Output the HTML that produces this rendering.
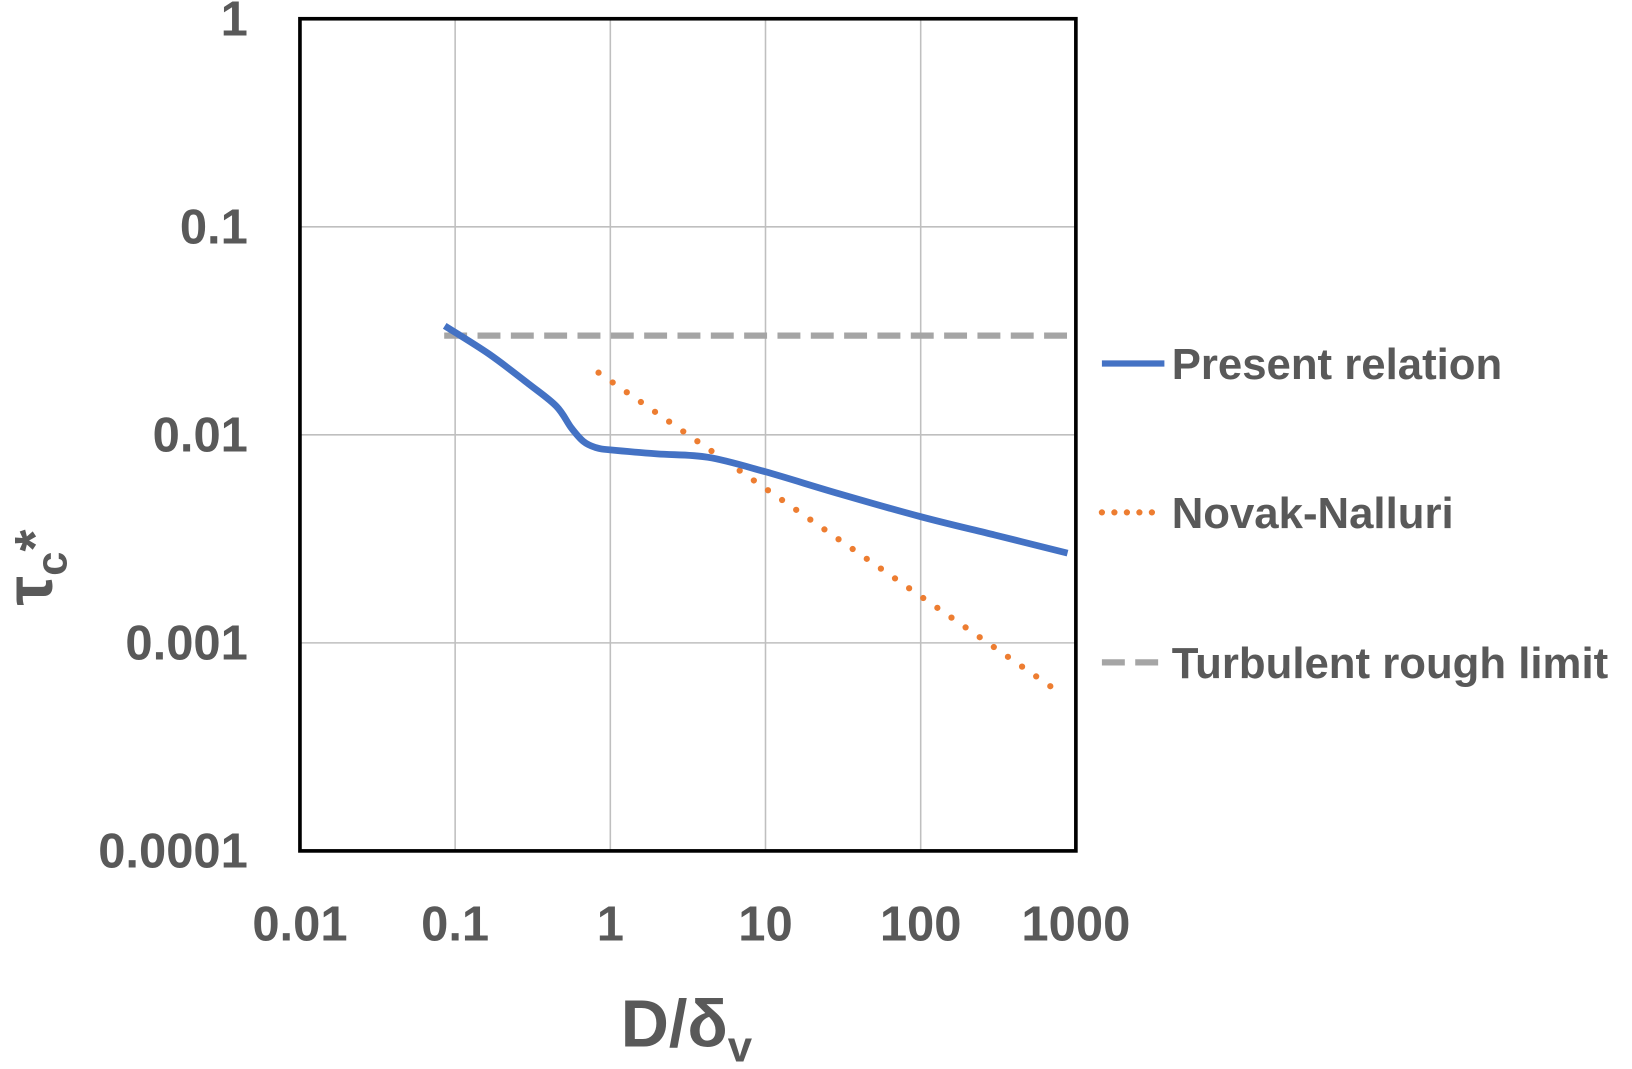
<!DOCTYPE html>
<html><head><meta charset="utf-8"><style>
body{margin:0;background:#fff;}
svg text{font-family:"Liberation Sans",sans-serif;font-weight:bold;fill:#595959;}
</style></head><body>
<svg id="chart" width="1632" height="1064" xmlns="http://www.w3.org/2000/svg">
<g transform="scale(1.0415)">
<g id="grid"></g>
<g id="series"></g>
<rect x="288" y="18" width="745" height="799" fill="none" stroke="#000" stroke-width="3.5"/>
<g id="ticks"></g>
<text x="596" y="1005" font-size="64">D/δ<tspan font-size="42" dy="14">v</tspan></text>
<text transform="translate(50,545) rotate(-90)" text-anchor="middle" font-size="64">τ<tspan font-size="42" dy="14">c</tspan><tspan font-size="54" dy="-12">*</tspan></text>
<g>
<line x1="1058" y1="349" x2="1118" y2="349" stroke="#4472C4" stroke-width="6"/>
<text x="1125" y="364" font-size="42">Present relation</text>
<line x1="1058" y1="492" x2="1118" y2="492" stroke="#ED7D31" stroke-width="6" stroke-dasharray="0 12" stroke-linecap="round"/>
<text x="1125" y="507" font-size="42">Novak-Nalluri</text>
<line x1="1058" y1="636" x2="1118" y2="636" stroke="#A5A5A5" stroke-width="6" stroke-dasharray="22 10"/>
<text x="1125" y="651" font-size="42">Turbulent rough limit</text>
</g>
</g>
</svg>
<script>
const xTicks=[0.01,0.1,1,10,100,1000];
const xTickLabels=["0.01","0.1","1","10","100","1000"];
const yTicks=[0.0001,0.001,0.01,0.1,1];
const yTickLabels=["0.0001","0.001","0.01","0.1","1"];
const presentX=[0.0857,0.166,0.3,0.45,0.56,0.67,0.8,1,2,4.27,10,30,100,300,884];
const presentY=[0.0334,0.0244,0.0175,0.0137,0.0108,0.0093,0.0087,0.00846,0.0081,0.0078,0.00664,0.0052,0.00404,0.0033,0.0027];
const novakX=[0.84,818];
const novakY=[0.0199,0.000564];
const turbX=[0.085,1000];
const turbY=[0.030,0.030];
const NS="http://www.w3.org/2000/svg";
const X=v=>288+(Math.log10(v)+2)*149;
const Y=v=>18+(0-Math.log10(v))*199.75;
const grid=document.getElementById('grid'),ticks=document.getElementById('ticks'),ser=document.getElementById('series');
function mk(tag,attrs,parent){const e=document.createElementNS(NS,tag);for(const k in attrs)e.setAttribute(k,attrs[k]);parent.appendChild(e);return e;}
xTicks.forEach((t,i)=>{
 const l=mk('line',{x1:X(t),x2:X(t),y1:18,y2:817,stroke:'#bfbfbf','stroke-width':1.5},grid);
 
 
 const tx=mk('text',{x:X(t),y:903,'text-anchor':'middle','font-size':47},ticks);
 tx.textContent=xTickLabels[i];
 
 
});
yTicks.forEach((t,i)=>{
 const l=mk('line',{x1:288,x2:1033,y1:Y(t),y2:Y(t),stroke:'#bfbfbf','stroke-width':1.5},grid);
 
 
 const tx=mk('text',{x:238,y:Y(t)+16,'text-anchor':'end','font-size':47},ticks);
 tx.textContent=yTickLabels[i];
 
 
});
function pts(xs,ys){return xs.map((x,i)=>X(x).toFixed(1)+','+Y(ys[i]).toFixed(1)).join(' ');}
function smooth(xs,ys){
 const P=xs.map((x,i)=>[X(x),Y(ys[i])]);
 let d='M'+P[0][0].toFixed(1)+','+P[0][1].toFixed(1);
 for(let i=0;i<P.length-1;i++){
  const p0=P[i-1]||P[i],p1=P[i],p2=P[i+1],p3=P[i+2]||p2;
  const c1=[p1[0]+(p2[0]-p0[0])/6,p1[1]+(p2[1]-p0[1])/6];
  const c2=[p2[0]-(p3[0]-p1[0])/6,p2[1]-(p3[1]-p1[1])/6];
  d+=' C'+c1.map(v=>v.toFixed(1))+' '+c2.map(v=>v.toFixed(1))+' '+p2.map(v=>v.toFixed(1));
 }
 return d;
}
const t=mk('polyline',{points:pts(turbX,turbY),fill:'none',stroke:'#A5A5A5','stroke-width':6,'stroke-dasharray':'22 10'},ser);


const n=mk('polyline',{points:pts(novakX,novakY),fill:'none',stroke:'#ED7D31','stroke-width':6,'stroke-dasharray':'0 16.5','stroke-linecap':'round'},ser);


const p=mk('path',{d:smooth(presentX,presentY),fill:'none',stroke:'#4472C4','stroke-width':6.5,'stroke-linejoin':'round'},ser);


</script>
</body></html>
